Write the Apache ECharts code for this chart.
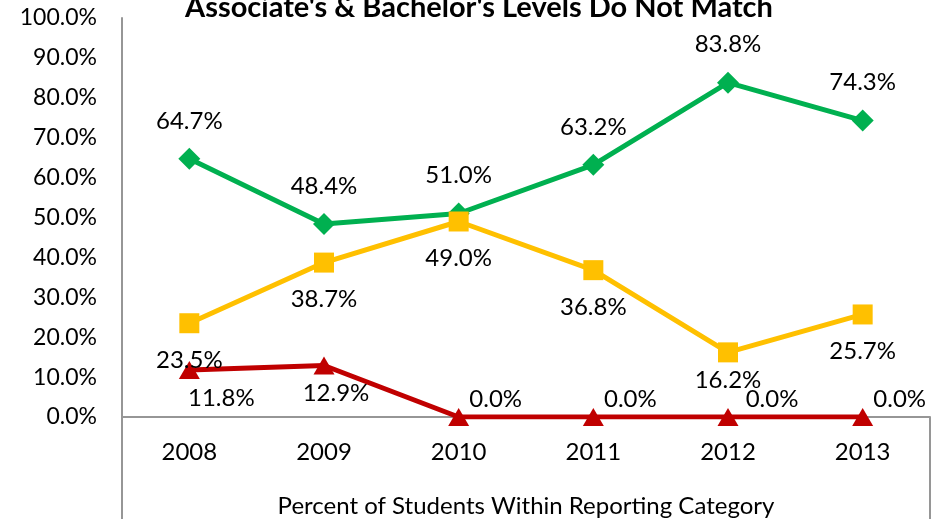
<!DOCTYPE html>
<html>
<head>
<meta charset="utf-8">
<script src="https://cdn.jsdelivr.net/npm/echarts@6/dist/echarts.min.js"></script>
<style>
  html, body { margin: 0; padding: 0; background: #fff; }
  #chart { width: 943px; height: 519px; }
</style>
</head>
<body>
<div id="chart"></div>
<script>
// chart data
const years = ['2008', '2009', '2010', '2011', '2012', '2013']
const greenVals = [64.7, 48.4, 51.0, 63.2, 83.8, 74.3]
const goldVals = [23.5, 38.7, 49.0, 36.8, 16.2, 25.7]
const redVals = [11.8, 12.9, 0.0, 0.0, 0.0, 0.0]

const font = 'Lato'
const pct = (p) => p.value.toFixed(1) + '%'

// the 2012 gold label sits closer to its marker
const goldData = goldVals.map((v, i) => i === 4 ? { value: v, label: { distance: 6 } } : v)

// red labels sit below-right when > 0, above-right at zero
const redData = redVals.map((v, i) => ({
    value: v,
    label: v > 0
        ? { position: 'bottom', offset: [v > 12 ? 12 : 32, 2] }
        : { position: 'top', offset: [i === 4 ? 44 : 37, 8] }
}))

const initChart = () => {
    const myChart = echarts.init(document.getElementById('chart'))
    myChart.setOption({
        animation: false,
        textStyle: { fontFamily: font },
        title: {
            text: "Associate's & Bachelor's Levels Do Not Match",
            left: 180,
            top: -12,
            textStyle: { fontFamily: font, fontSize: 29, fontWeight: 'bold', color: '#000' }
        },
        grid: { left: 122, right: 13, top: 18, bottom: 102, outerBoundsMode: 'none', containLabel: false },
        xAxis: {
            type: 'category',
            data: years,
            axisLine: { lineStyle: { color: '#969696', width: 2 } },
            axisTick: { show: false },
            axisLabel: { fontFamily: font, fontSize: 24, color: '#000', margin: 23 },
            name: 'Percent of Students Within Reporting Category',
            nameLocation: 'middle',
            nameGap: 77,
            nameTextStyle: { fontFamily: font, fontSize: 24, color: '#000' }
        },
        yAxis: {
            type: 'value',
            min: 0,
            max: 100,
            interval: 10,
            axisLine: { show: true, lineStyle: { color: '#969696', width: 2 } },
            axisTick: { show: false },
            splitLine: { show: false },
            axisLabel: {
                fontFamily: font, fontSize: 23, color: '#000', margin: 25,
                formatter: v => v.toFixed(1) + '%'
            }
        },
        graphic: [
            { type: 'line', shape: { x1: 122, y1: 417, x2: 122, y2: 519 }, style: { stroke: '#969696', lineWidth: 2 } },
            { type: 'line', shape: { x1: 930, y1: 417, x2: 930, y2: 519 }, style: { stroke: '#969696', lineWidth: 2 } }
        ],
        series: [
            {
                type: 'line',
                data: greenVals,
                symbol: 'diamond',
                symbolSize: 22,
                itemStyle: { color: '#00B050' },
                lineStyle: { color: '#00B050', width: 5 },
                label: { show: true, position: 'top', distance: 15, fontFamily: font, fontSize: 24, color: '#000', formatter: pct }
            },
            {
                type: 'line',
                data: goldData,
                symbol: 'rect',
                symbolSize: 20,
                itemStyle: { color: '#FFC000' },
                lineStyle: { color: '#FFC000', width: 5 },
                label: { show: true, position: 'bottom', distance: 15, fontFamily: font, fontSize: 24, color: '#000', formatter: pct }
            },
            {
                type: 'line',
                data: redData,
                symbol: 'triangle',
                symbolSize: [21, 18],
                itemStyle: { color: '#C00000' },
                lineStyle: { color: '#C00000', width: 5 },
                label: { show: true, fontFamily: font, fontSize: 24, color: '#000', formatter: pct }
            }
        ]
    })
}

window.addEventListener('load', () => {
    initChart()
})
</script>
</body>
</html>
